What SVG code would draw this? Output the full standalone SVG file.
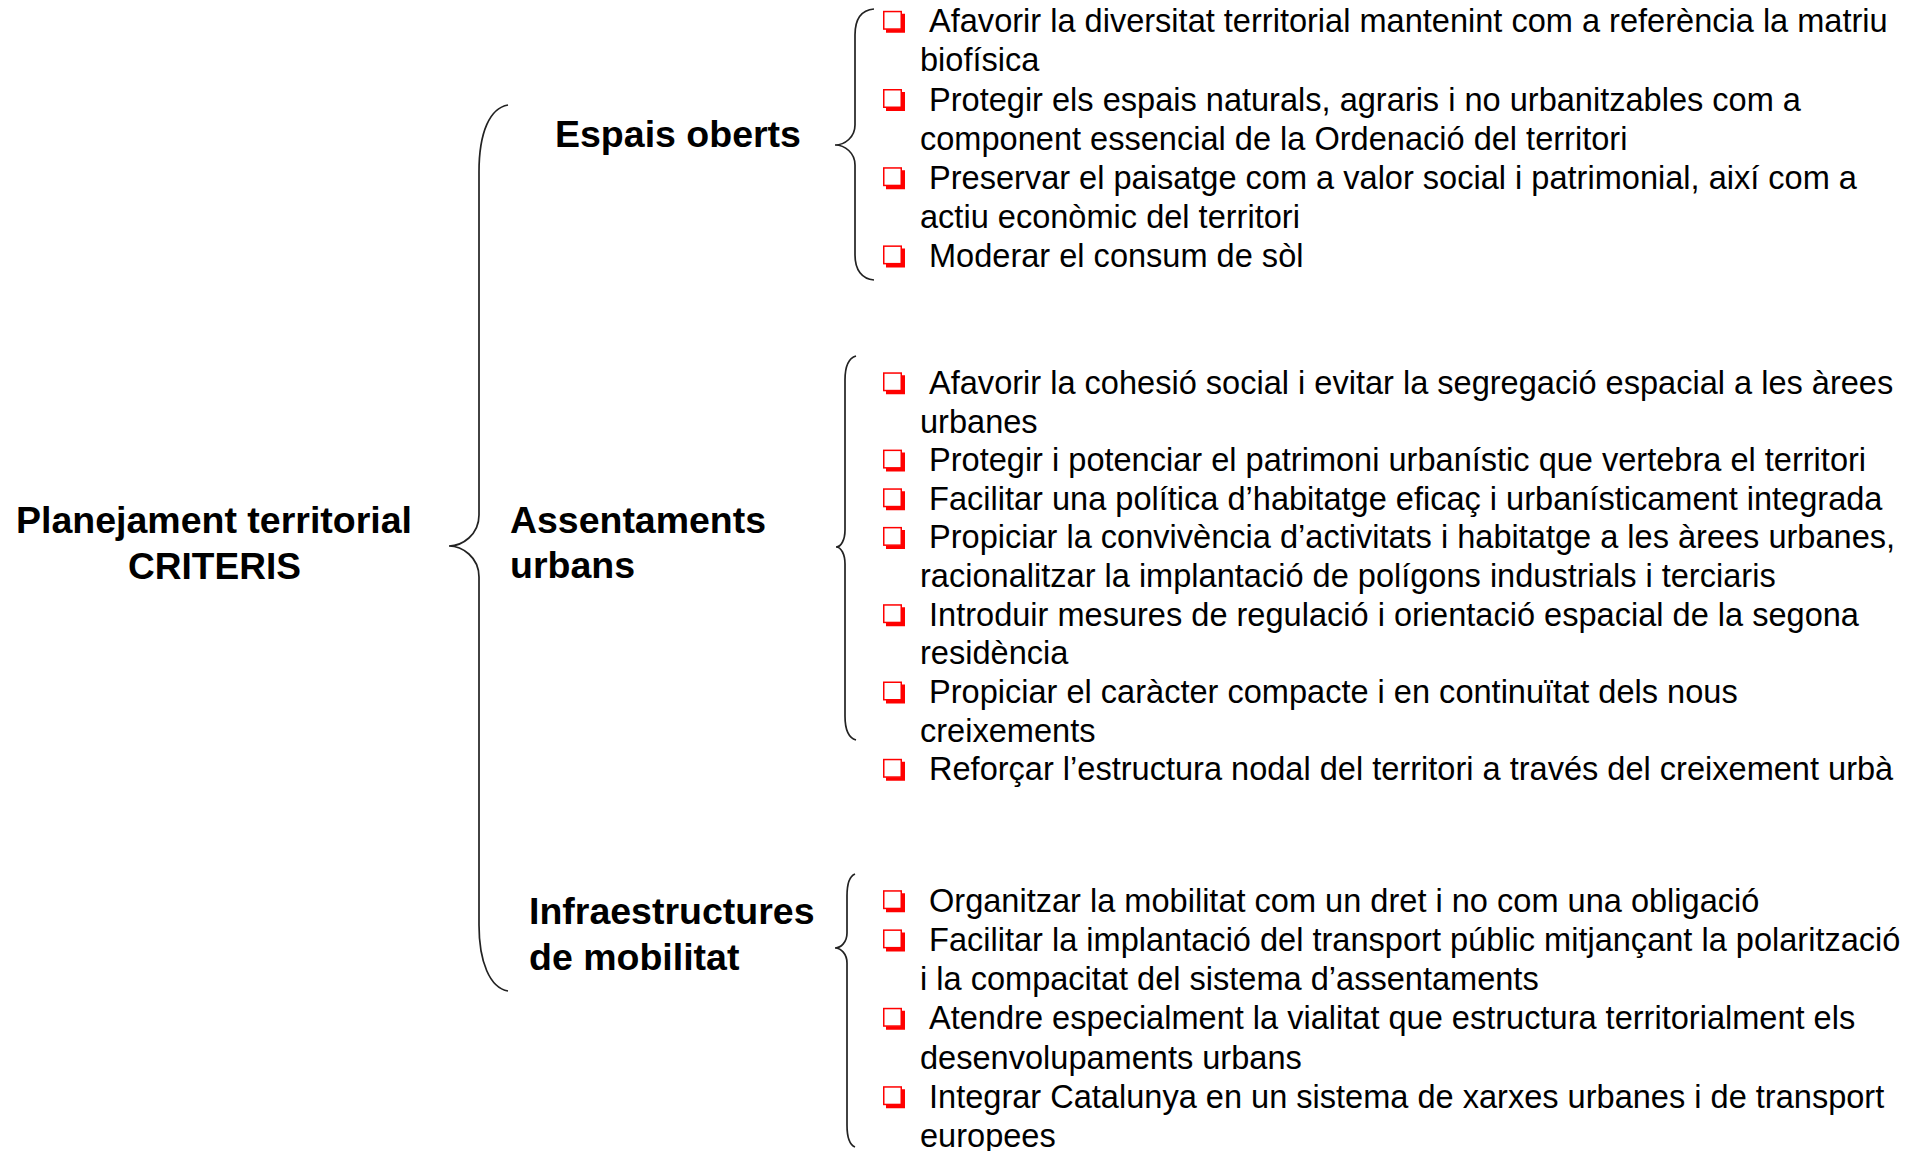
<svg xmlns="http://www.w3.org/2000/svg" xmlns:xlink="http://www.w3.org/1999/xlink" width="1918" height="1151" viewBox="0 0 1918 1151">
<style>
.t{font-family:"Liberation Sans",Arial,sans-serif;font-size:32.55px;fill:#000}
.h{font-family:"Liberation Sans",Arial,sans-serif;font-weight:bold;font-size:37.5px;fill:#000}
.br{fill:none;stroke:#222;stroke-width:1.7}
</style>
<defs>
<g id="bul">
<rect x="0.75" y="0.75" width="17.5" height="17.5" fill="#fff" stroke="#ff0000" stroke-width="1.5"/>
<polygon points="18.5,3 22,3 22,22 3,22 3,18.5 18.5,18.5" fill="#ff0000"/>
</g>
</defs>
<rect width="1918" height="1151" fill="#fff"/>
<g id="connectors">
<path class="br" d="M508,105 C490,108 479,132 479,172 L479,515 C479,535 462,546 449,546 C462,546 479,557 479,577 L479,925 C479,962 490,988 508,991"/>
<path class="br" d="M874,9 C862,10 855,18 855,35 L855,125 C855,137 845,145 835,145 C845,145 855,153 855,165 L855,255 C855,270 862,279 874,280"/>
<path class="br" d="M856,356 C849,358 845,366 845,380 L845,530 C845,540 841,547 836,547 C841,547 845,554 845,564 L845,716 C845,730 849,738 856,740"/>
<path class="br" d="M855,874 C850,876 847,884 847,896 L847,933 C847,942 841,948 835,948 C841,948 847,954 847,963 L847,1125 C847,1138 850,1145 855,1147"/>
</g>
<g id="node-root">
<text class="h" x="16" y="533" font-size="29.5" textLength="396" lengthAdjust="spacingAndGlyphs">Planejament territorial</text>
<text class="h" x="128" y="579" font-size="31" textLength="173" lengthAdjust="spacingAndGlyphs">CRITERIS</text>
</g>
<g id="node-espais">
<text class="h" x="555" y="146.5">Espais oberts</text>
</g>
<g id="node-assentaments">
<text class="h" x="510" y="532.5" font-size="32" textLength="256" lengthAdjust="spacingAndGlyphs">Assentaments</text>
<text class="h" x="510" y="578">urbans</text>
</g>
<g id="node-infraestructures">
<text class="h" x="529" y="924">Infraestructures</text>
<text class="h" x="529" y="970">de mobilitat</text>
</g>
<g id="list-espais">
<use xlink:href="#bul" x="883" y="10.8"/>
<use xlink:href="#bul" x="883" y="89"/>
<use xlink:href="#bul" x="883" y="167.2"/>
<use xlink:href="#bul" x="883" y="245.4"/>
<text class="t" x="929" y="32.3">Afavorir la diversitat territorial mantenint com a referència la matriu</text>
<text class="t" x="920" y="71.4">biofísica</text>
<text class="t" x="929" y="110.5">Protegir els espais naturals, agraris i no urbanitzables com a</text>
<text class="t" x="920" y="149.6">component essencial de la Ordenació del territori</text>
<text class="t" x="929" y="188.7">Preservar el paisatge com a valor social i patrimonial, així com a</text>
<text class="t" x="920" y="227.8">actiu econòmic del territori</text>
<text class="t" x="929" y="266.9">Moderar el consum de sòl</text>
</g>
<g id="list-assentaments">
<use xlink:href="#bul" x="883" y="372.3"/>
<use xlink:href="#bul" x="883" y="449.6"/>
<use xlink:href="#bul" x="883" y="488.3"/>
<use xlink:href="#bul" x="883" y="526.9"/>
<use xlink:href="#bul" x="883" y="604.2"/>
<use xlink:href="#bul" x="883" y="681.5"/>
<use xlink:href="#bul" x="883" y="758.8"/>
<text class="t" x="929" y="393.8">Afavorir la cohesió social i evitar la segregació espacial a les àrees</text>
<text class="t" x="920" y="432.5">urbanes</text>
<text class="t" x="929" y="471.1">Protegir i potenciar el patrimoni urbanístic que vertebra el territori</text>
<text class="t" x="929" y="509.8">Facilitar una política d’habitatge eficaç i urbanísticament integrada</text>
<text class="t" x="929" y="548.4">Propiciar la convivència d’activitats i habitatge a les àrees urbanes,</text>
<text class="t" x="920" y="587.1">racionalitzar la implantació de polígons industrials i terciaris</text>
<text class="t" x="929" y="625.7">Introduir mesures de regulació i orientació espacial de la segona</text>
<text class="t" x="920" y="664.4">residència</text>
<text class="t" x="929" y="703">Propiciar el caràcter compacte i en continuïtat dels nous</text>
<text class="t" x="920" y="741.7">creixements</text>
<text class="t" x="929" y="780.3">Reforçar l’estructura nodal del territori a través del creixement urbà</text>
</g>
<g id="list-infraestructures">
<use xlink:href="#bul" x="883" y="890.2"/>
<use xlink:href="#bul" x="883" y="929.4"/>
<use xlink:href="#bul" x="883" y="1007.8"/>
<use xlink:href="#bul" x="883" y="1086.2"/>
<text class="t" x="929" y="911.7">Organitzar la mobilitat com un dret i no com una obligació</text>
<text class="t" x="929" y="950.9">Facilitar la implantació del transport públic mitjançant la polarització</text>
<text class="t" x="920" y="990.1">i la compacitat del sistema d’assentaments</text>
<text class="t" x="929" y="1029.3">Atendre especialment la vialitat que estructura territorialment els</text>
<text class="t" x="920" y="1068.5">desenvolupaments urbans</text>
<text class="t" x="929" y="1107.7">Integrar Catalunya en un sistema de xarxes urbanes i de transport</text>
<text class="t" x="920" y="1146.9">europees</text>
</g>
</svg>
